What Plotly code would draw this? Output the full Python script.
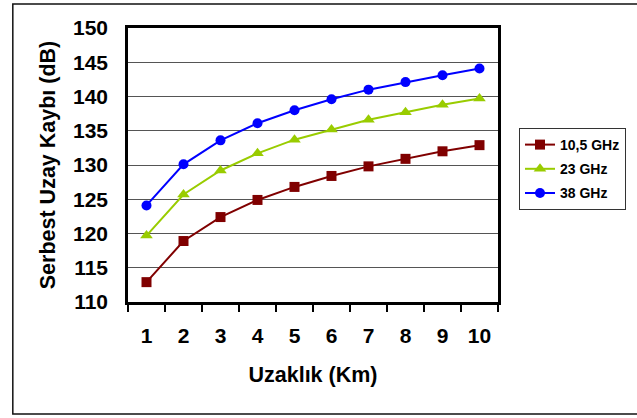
import plotly.graph_objects as go

distance_km = ["1", "2", "3", "4", "5", "6", "7", "8", "9", "10"]
loss_10_5 = [112.9, 118.9, 122.4, 124.9, 126.8, 128.4, 129.8, 130.9, 132.0, 132.9]
loss_23 = [119.7, 125.7, 129.2, 131.7, 133.7, 135.2, 136.6, 137.7, 138.8, 139.7]
loss_38 = [124.1, 130.1, 133.6, 136.1, 138.0, 139.6, 141.0, 142.1, 143.1, 144.1]
series_names = ["10,5 GHz", "23 GHz", "38 GHz"]
y_ticks = [110, 115, 120, 125, 130, 135, 140, 145, 150]

FONT = "Arial, Liberation Sans, sans-serif"

fig = go.Figure()
styles = [
    (loss_10_5, "#800000", "square", 10),
    (loss_23, "#99CC00", "triangle-up", 11),
    (loss_38, "#0000FF", "circle", 10),
]
for name, (vals, col, sym, sz) in zip(series_names, styles):
    fig.add_trace(go.Scatter(
        x=distance_km, y=vals, name=name, mode="lines+markers",
        line=dict(color=col, width=2),
        marker=dict(symbol=sym, size=sz, color=col),
        legendgroup=name,
    ))

# plot-area geometry in pixels
L, R, T, B = 128, 499, 28, 302
W, H = 637, 418
pw, ph = R - L, B - T

def px_x(x):
    return (x - L) / pw

def px_y(y):
    return (B - y) / ph

fig.add_shape(type="rect", xref="paper", yref="paper",
              x0=px_x(12.5), x1=px_x(660), y0=px_y(414), y1=px_y(4),
              line=dict(color="#111", width=1.5), layer="below")

fig.update_layout(
    width=W, height=H,
    margin=dict(l=L, r=W - R, t=T, b=H - B),
    paper_bgcolor="white", plot_bgcolor="white",
    font=dict(family=FONT, color="black"),
    showlegend=True,
    legend=dict(
        x=px_x(519), y=px_y(128), xanchor="left", yanchor="top",
        bordercolor="#333", borderwidth=1, bgcolor="white",
        font=dict(family=FONT, size=14, weight="bold"),
        tracegroupgap=3,
    ),
    xaxis=dict(
        type="category", tickson="boundaries",
        ticks="outside", ticklen=7, tickcolor="black", tickwidth=1.5,
        showline=True, linecolor="black", linewidth=2.5, mirror=True,
        showgrid=False, zeroline=False,
        tickfont=dict(family=FONT, size=21, weight="bold"),
        ticklabelstandoff=13,
        title=dict(text="Uzaklık (Km)", font=dict(family=FONT, size=21.5, weight="bold"), standoff=21),
        range=[-0.5, 9.5],
    ),
    yaxis=dict(
        range=[110, 150], tickvals=y_ticks,
        ticks="", showline=True, linecolor="black", linewidth=2.5, mirror=True,
        showgrid=True, gridcolor="#555", gridwidth=1, zeroline=False,
        tickfont=dict(family=FONT, size=21, weight="bold"),
        ticklabelstandoff=13,
        title=dict(text="Serbest Uzay Kaybı (dB)", font=dict(family=FONT, size=21.5, weight="bold"), standoff=12),
    ),
)

fig.write_html("out.html")
